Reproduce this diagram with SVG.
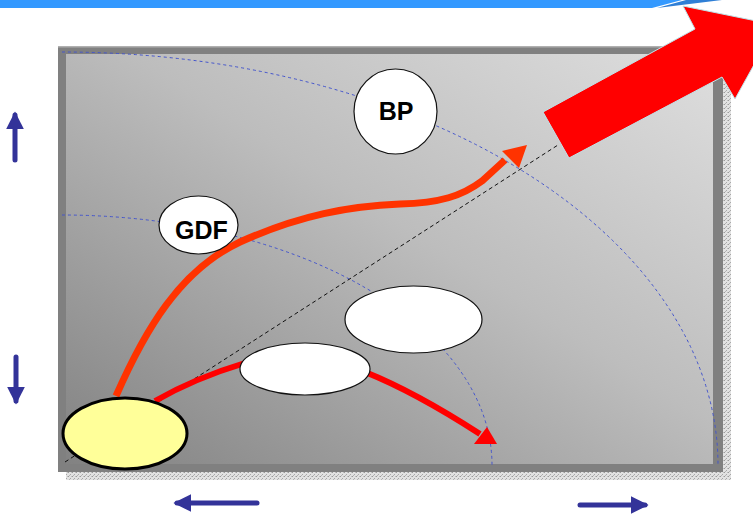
<svg xmlns="http://www.w3.org/2000/svg" width="753" height="518" viewBox="0 0 753 518">
<defs>
<linearGradient id="bg" x1="0" y1="1" x2="1" y2="0">
<stop offset="0" stop-color="#828282"/>
<stop offset="0.55" stop-color="#bdbdbd"/>
<stop offset="1" stop-color="#dedede"/>
</linearGradient>
<pattern id="tex" width="4" height="4" patternUnits="userSpaceOnUse">
<rect width="4" height="4" fill="#e2e2e2"/>
<rect x="0" y="0" width="1" height="1" fill="#9a9a9a"/>
<rect x="2" y="2" width="1" height="1" fill="#a8a8a8"/>
<rect x="3" y="0" width="1" height="1" fill="#c0c0c0"/>
<rect x="1" y="3" width="1" height="1" fill="#b5b5b5"/>
</pattern>
<marker id="ba" viewBox="0 0 10 10" refX="8" refY="5" markerWidth="3.6" markerHeight="3.6" orient="auto" markerUnits="strokeWidth">
<path d="M0,0 L10,5 L0,10 z" fill="#333399"/>
</marker>
</defs>
<style>
.node{fill:#ffffff;stroke:#111111;stroke-width:1.2}
.lbl{font-family:"Liberation Sans",Arial,sans-serif;font-size:25px;font-weight:bold;fill:#000000;text-anchor:middle}
.arc{fill:none;stroke:#4455cc;stroke-width:1;stroke-dasharray:3 3}
.dir{fill:none;stroke:#333399;stroke-width:5;stroke-linecap:round}
</style>
<rect x="0" y="0" width="753" height="518" fill="#ffffff"/>
<polygon points="0,0 682,0 652,8 0,8" fill="#3399ff"/>
<polygon points="686,0 722,0 657,8" fill="#2f7fd6"/>

<g id="frame">
<rect x="66" y="472" width="665" height="8" fill="url(#tex)"/>
<rect x="722" y="78" width="9" height="402" fill="url(#tex)"/>
<rect x="58" y="46" width="665" height="426" fill="#808080"/>
<rect x="58" y="46" width="665" height="1.5" fill="#b0b0b0"/>
<rect x="66" y="54" width="647" height="410" fill="url(#bg)"/>
</g>

<g id="guides">
<path class="arc" d="M62,52 A656,413 0 0 1 718,465"/>
<path class="arc" d="M62,215 A430,250 0 0 1 492,465"/>
<line x1="65" y1="462" x2="558" y2="145" stroke="#111111" stroke-width="1" stroke-dasharray="4 3"/>
</g>

<g id="big-arrow">
<polygon points="543,112 695,29 683,6 776,25 735,99 722,77 569,158" fill="#ff0000" stroke="#bfe3ea" stroke-width="1"/>
</g>

<g id="connectors">
<path d="M116,396 C145,330 180,270 240,242 C300,215 350,206 400,204 C440,203 462,196 482,181 L505,160" fill="none" stroke="#ff3300" stroke-width="7"/>
<polygon points="527,145 502,151 519,168" fill="#ff3300"/>
<path d="M155,401 Q195,378 245,363" fill="none" stroke="#ff0000" stroke-width="6"/>
<path d="M365,372 Q415,392 480,434" fill="none" stroke="#ff0000" stroke-width="6"/>
<polygon points="497,444 474,444 487,427" fill="#ff0000"/>
<line class="dir" x1="15" y1="160" x2="15" y2="115" marker-end="url(#ba)"/>
<line class="dir" x1="16" y1="357" x2="16" y2="401" marker-end="url(#ba)"/>
<line class="dir" x1="257" y1="503" x2="177" y2="503" marker-end="url(#ba)"/>
<line class="dir" x1="580" y1="505" x2="645" y2="505" marker-end="url(#ba)"/>
</g>

<g id="node-start">
<ellipse cx="125" cy="433.5" rx="62" ry="35.5" fill="#ffff99" stroke="#000000" stroke-width="3"/>
</g>
<g id="node-gdf">
<ellipse class="node" cx="198.5" cy="225" rx="39.5" ry="29"/>
<text class="lbl" x="201.5" y="238.5">GDF</text>
</g>
<g id="node-bp">
<ellipse class="node" cx="395.5" cy="111.5" rx="41.5" ry="42.5"/>
<text class="lbl" x="396" y="120">BP</text>
</g>
<g id="node-upper">
<ellipse class="node" cx="413.5" cy="319.5" rx="68.5" ry="33.5"/>
</g>
<g id="node-lower">
<ellipse class="node" cx="305" cy="369" rx="65" ry="26"/>
</g>
</svg>
